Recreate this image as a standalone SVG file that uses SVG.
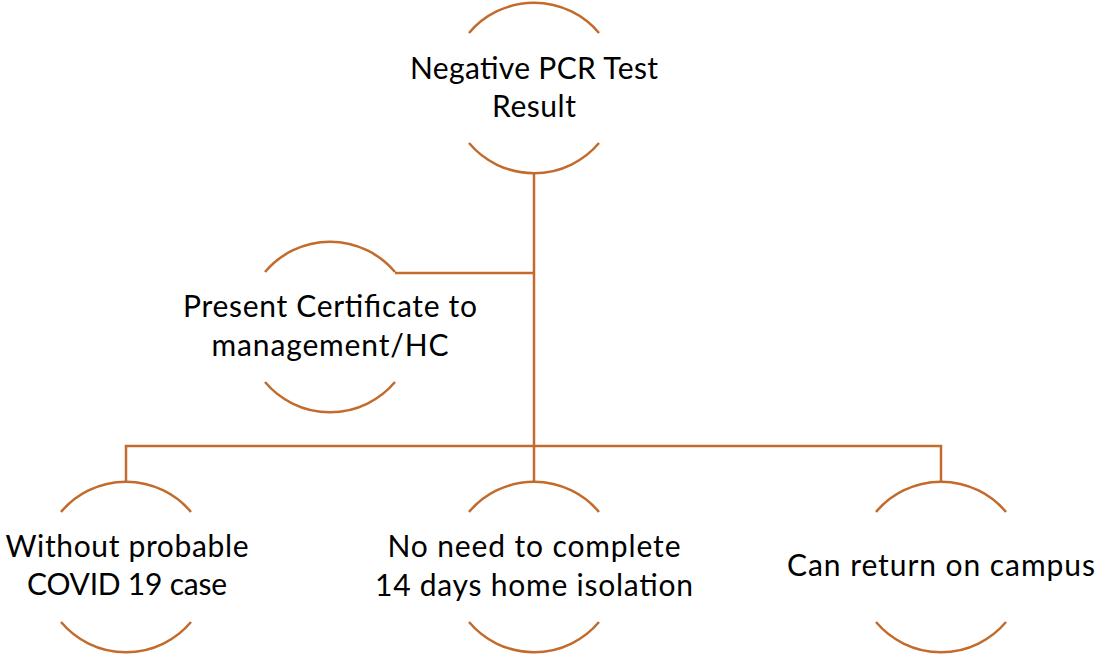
<svg xmlns="http://www.w3.org/2000/svg" width="1098" height="656" viewBox="0 0 1098 656">
<style>
.arc{fill:none;stroke:#C26B2C;stroke-width:2.5}
.conn{fill:none;stroke:#C26B2C;stroke-width:2.5}
text{font-family:Lato,"Open Sans","Liberation Sans",sans-serif;font-size:30px;fill:#000;text-anchor:middle}
</style>
<rect width="1098" height="656" fill="#fff"/>
<g id="connectors">
<path class="conn" d="M534 173 V446"/>
<path class="conn" d="M395 273 H534"/>
<path class="conn" d="M126 482 V446 H941 V482"/>
<path class="conn" d="M534 446 V482"/>
</g>
<g id="node-negative">
<path class="arc" d="M469 33 A85 85 0 0 1 599 33"/>
<path class="arc" d="M469 143 A85 85 0 0 0 599 143"/>
<text x="534" y="79" textLength="248">Negative PCR Test</text>
<text x="534" y="117" textLength="84">Result</text>
</g>
<g id="node-present">
<path class="arc" d="M265 272 A85 85 0 0 1 395 272"/>
<path class="arc" d="M265 382 A85 85 0 0 0 395 382"/>
<text x="330" y="317" textLength="294">Present Certificate to</text>
<text x="330" y="356" textLength="237">management/HC</text>
</g>
<g id="node-without">
<path class="arc" d="M61 512 A85 85 0 0 1 191 512"/>
<path class="arc" d="M61 622 A85 85 0 0 0 191 622"/>
<text x="127" y="557" textLength="243">Without probable</text>
<text x="127" y="595" textLength="200">COVID 19 case</text>
</g>
<g id="node-noneed">
<path class="arc" d="M469 512 A85 85 0 0 1 599 512"/>
<path class="arc" d="M469 622 A85 85 0 0 0 599 622"/>
<text x="534" y="557" textLength="293">No need to complete</text>
<text x="534" y="596" textLength="318">14 days home isolation</text>
</g>
<g id="node-return">
<path class="arc" d="M876 512 A85 85 0 0 1 1006 512"/>
<path class="arc" d="M876 622 A85 85 0 0 0 1006 622"/>
<text x="941" y="576" textLength="308">Can return on campus</text>
</g>
</svg>
